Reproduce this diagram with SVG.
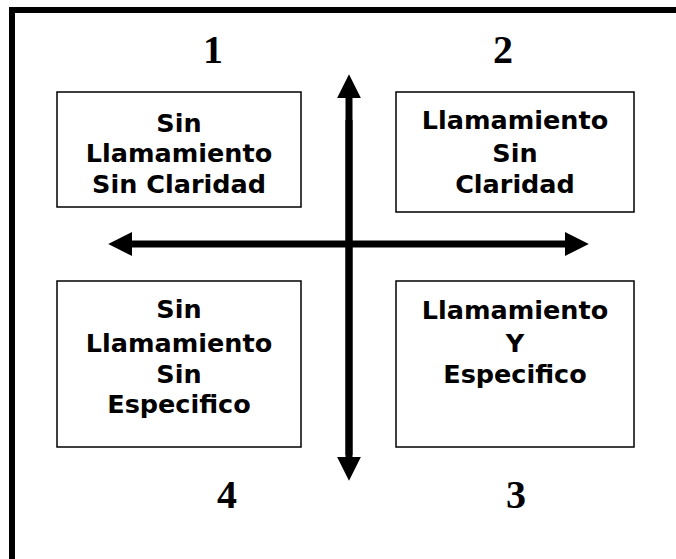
<svg xmlns="http://www.w3.org/2000/svg" width="676" height="559" viewBox="0 0 676 559">
<style>
.box{fill:#fff;stroke:#000;stroke-width:1.5}
.lbl{font-family:"DejaVu Sans",Verdana,sans-serif;font-weight:bold;font-size:25.5px;text-anchor:middle;fill:#000}
.num{font-family:"Liberation Serif","Times New Roman",serif;font-weight:bold;font-size:40px;text-anchor:middle;fill:#000}
.axis{stroke:#000;stroke-width:7;fill:none}
</style>
<defs>
<marker id="ah" viewBox="0 0 10 10" refX="0" refY="5" markerWidth="3.4" markerHeight="3.4" markerUnits="strokeWidth" orient="auto">
<path d="M0,0 L10,5 L0,10 Z" fill="#000"/>
</marker>
</defs>
<rect width="676" height="559" fill="#fff"/>
<path d="M12,570 L12,10 L690,10" fill="none" stroke="#000" stroke-width="6"/>
<g id="connectors">
<line class="axis" x1="349" y1="455" x2="349" y2="98" marker-end="url(#ah)"/>
<line class="axis" x1="349" y1="120" x2="349" y2="457" marker-end="url(#ah)"/>
<line class="axis" x1="349" y1="244" x2="565" y2="244" marker-end="url(#ah)"/>
<line class="axis" x1="349" y1="244" x2="132" y2="244" marker-end="url(#ah)"/>
</g>
<g id="n1">
<text class="num" x="213" y="63">1</text>
<rect class="box" x="57" y="92" width="244" height="115"/>
<text class="lbl" x="179" y="132">Sin</text>
<text class="lbl" x="179" y="162">Llamamiento</text>
<text class="lbl" x="179" y="193">Sin Claridad</text>
</g>
<g id="n2">
<text class="num" x="503" y="63">2</text>
<rect class="box" x="396" y="92" width="238" height="120"/>
<text class="lbl" x="515" y="129">Llamamiento</text>
<text class="lbl" x="515" y="162">Sin</text>
<text class="lbl" x="515" y="193">Claridad</text>
</g>
<g id="n4">
<text class="num" x="227" y="508">4</text>
<rect class="box" x="57" y="281" width="244" height="166"/>
<text class="lbl" x="179" y="318">Sin</text>
<text class="lbl" x="179" y="352">Llamamiento</text>
<text class="lbl" x="179" y="383">Sin</text>
<text class="lbl" x="179" y="413">Especifico</text>
</g>
<g id="n3">
<text class="num" x="516" y="508">3</text>
<rect class="box" x="396" y="281" width="238" height="166"/>
<text class="lbl" x="515" y="319">Llamamiento</text>
<text class="lbl" x="515" y="352">Y</text>
<text class="lbl" x="515" y="383">Especifico</text>
</g>
</svg>
